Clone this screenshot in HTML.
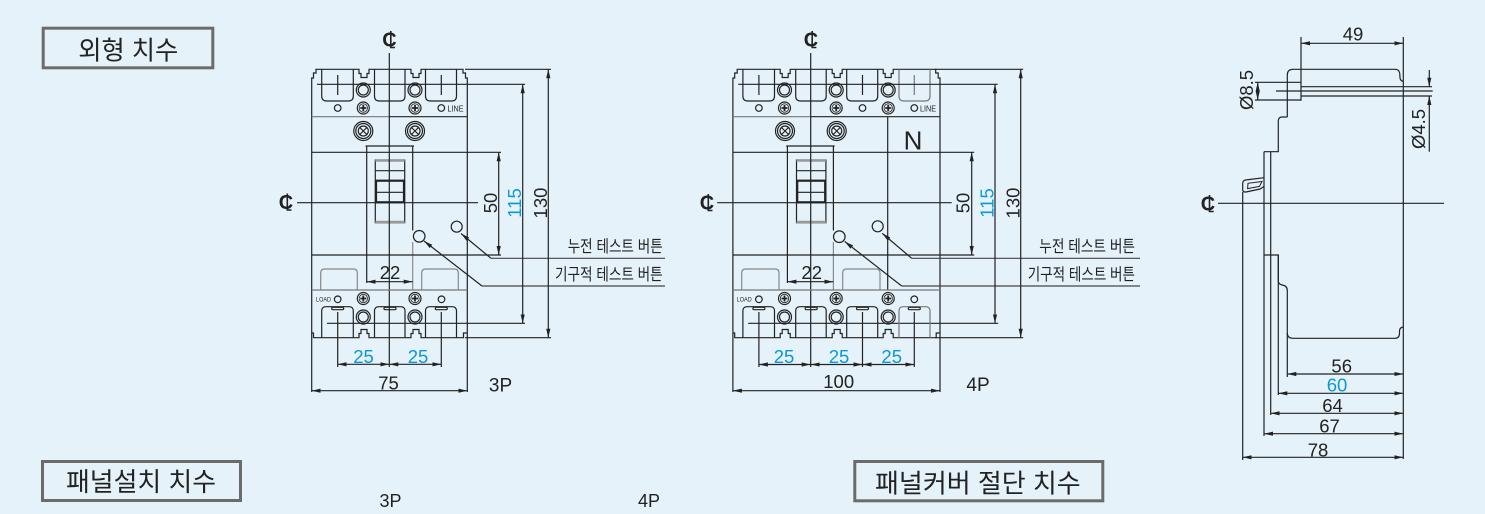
<!DOCTYPE html>
<html><head><meta charset="utf-8">
<style>
html,body{margin:0;padding:0;background:#e5f2f9;}
svg{display:block}
text{font-family:"Liberation Sans","Noto Sans CJK KR",sans-serif;fill:#222;stroke:none}
.kr{font-family:"Liberation Sans","Noto Sans CJK KR",sans-serif}
.n{font-size:18.5px}
.b{fill:#0a98d8}
.cl{font-size:20px;font-weight:bold}
</style></head><body>
<svg width="1485" height="514" viewBox="0 0 1485 514" xmlns="http://www.w3.org/2000/svg">
<defs>
<marker id="ar" markerUnits="userSpaceOnUse" markerWidth="9" markerHeight="5" viewBox="0 0 9 5" refX="9" refY="2.5" orient="auto-start-reverse"><path d="M0,0.4 L9,2.5 L0,4.6Z" fill="#222"/></marker>
</defs>
<rect width="1485" height="514" fill="#e5f2f9"/>

<!-- Title boxes -->
<g fill="none" stroke="#6b6b6b" stroke-width="3">
<rect x="43.2" y="28.2" width="169.6" height="39.6"/>
<rect x="42.5" y="461.5" width="198" height="39"/>
<rect x="854.8" y="461.5" width="248" height="39.3"/>
</g>
<text class="kr" x="78.3" y="59.3" font-size="26" textLength="100" lengthAdjust="spacingAndGlyphs">외형 치수</text>
<text class="kr" x="66" y="491" font-size="26" textLength="150" lengthAdjust="spacingAndGlyphs">패널설치 치수</text>
<text class="kr" x="875" y="492.6" font-size="26" textLength="205.7" lengthAdjust="spacingAndGlyphs">패널커버 절단 치수</text>
<text x="390.5" y="507" font-size="18" text-anchor="middle">3P</text>
<text x="649" y="507" font-size="18" text-anchor="middle">4P</text>

<!-- ===== 3P ===== -->
<g fill="none" stroke="#222" stroke-width="1.2">
<path d="M311.7,392V78H313.5V73H316V69.3H359V73.5H361V77.5H367V73.5H369V69.3H411V73.5H413V77.5H419V73.5H421V69.3H463V73H465.5V78H467.3V392"/>
<path d="M311.7,333H313.5V337.7H359V333.5H361V329.5H367V333.5H369V337.7H411V333.5H413V329.5H419V333.5H421V337.7H463.5V333H467.3"/>
<path d="M321.7,69.3V96Q321.7,101 326.7,101H348.3Q353.3,101 353.3,96V69.3"/>
<path d="M374.5,69.3V96Q374.5,101 379.5,101H400Q405,101 405,96V69.3"/>
<path d="M425.5,69.3V96Q425.5,101 430.5,101H451.5Q456.5,101 456.5,96V69.3"/>
<path d="M337.7,75V95M441.3,75V95"/>
<circle cx="363.3" cy="90" r="7"/><circle cx="363.3" cy="90" r="5"/>
<circle cx="415" cy="90" r="7"/><circle cx="415" cy="90" r="5"/>
<circle cx="337.7" cy="108" r="3.3"/><circle cx="441.3" cy="108" r="3.3"/>
<g transform="translate(363.3,108)"><circle r="6"/><circle r="4.2" stroke-width="0.8"/><path d="M-3,0H3M0,-3V3" stroke-width="1.8"/></g>
<g transform="translate(415,108)"><circle r="6"/><circle r="4.2" stroke-width="0.8"/><path d="M-3,0H3M0,-3V3" stroke-width="1.8"/></g>
<path d="M311.7,116.7H389.3" stroke="#777"/><path d="M389.3,116.7H467.3"/>
<g transform="translate(363.3,131)"><circle r="9.5"/><circle r="7.5"/><circle r="5"/><path d="M-3.5,-3.5L3.5,3.5M3.5,-3.5L-3.5,3.5"/></g>
<g transform="translate(415,131)"><circle r="9.5"/><circle r="7.5"/><circle r="5"/><path d="M-3.5,-3.5L3.5,3.5M3.5,-3.5L-3.5,3.5"/></g>
<path d="M311.7,152.3H501"/>
<path d="M366.7,283V146M365.5,146H414M412.7,146V230.5"/>
<path d="M412.7,242V290" stroke="#888"/>
<rect x="375.3" y="160" width="29.4" height="62.7"/>
<path d="M375.3,170.7H404.7M375.3,192.3H404.7"/>
<rect x="376" y="180.7" width="28" height="21.6" stroke-width="2.2"/>
<path d="M375.3,160.5H404.7M375.3,222H404.7" stroke="#999" stroke-width="2.5"/>
<path d="M297,202.7H478M389.3,53V367"/>
<circle cx="456.7" cy="226.7" r="5.5"/>
<circle cx="419.2" cy="236.3" r="5.8"/>
<line x1="491" y1="258.3" x2="461" y2="233.5" marker-end="url(#ar)"/>
<line x1="482" y1="286" x2="424" y2="241" marker-end="url(#ar)"/>
<path d="M491,258.3H665M482,286H665" stroke="#444"/>
<path d="M311.7,255H501"/>
<line x1="498.7" y1="152.3" x2="498.7" y2="255" marker-start="url(#ar)" marker-end="url(#ar)"/>
<path d="M317,84.3H525M327,323.3H525"/>
<line x1="522.7" y1="84.3" x2="522.7" y2="323.3" marker-start="url(#ar)" marker-end="url(#ar)"/>
<path d="M465,69.3H551M465,337.7H551"/>
<line x1="548.3" y1="69.3" x2="548.3" y2="337.7" marker-start="url(#ar)" marker-end="url(#ar)"/>
<path d="M320.7,290V273Q320.7,269 324.7,269H353.3Q357.3,269 357.3,273V290M421.7,290V273Q421.7,269 425.7,269H454.3Q458.3,269 458.3,273V290" stroke="#888"/>
<path d="M311.7,290H467.3" stroke="#777"/>
<line x1="366.7" y1="281.7" x2="412.7" y2="281.7" marker-start="url(#ar)" marker-end="url(#ar)"/>
<circle cx="337.7" cy="299.3" r="3.3"/><circle cx="441.5" cy="299.3" r="3.3"/>
<g transform="translate(363.3,298.5)"><circle r="6"/><circle r="4.2" stroke-width="0.8"/><path d="M-3,0H3M0,-3V3" stroke-width="1.8"/></g>
<g transform="translate(415,298.5)"><circle r="6"/><circle r="4.2" stroke-width="0.8"/><path d="M-3,0H3M0,-3V3" stroke-width="1.8"/></g>
<path d="M321.7,337.7V311Q321.7,306.7 326,306.7H349Q353.3,306.7 353.3,311V337.7"/>
<path d="M374.5,337.7V311Q374.5,306.7 379,306.7H400.5Q405,306.7 405,311V337.7"/>
<path d="M425.5,337.7V311Q425.5,306.7 430,306.7H452Q456.5,306.7 456.5,311V337.7"/>
<rect x="331.7" y="307.3" width="12" height="2.4" rx="1.2"/><rect x="384" y="307.3" width="12" height="2.4" rx="1.2"/><rect x="435.3" y="307.3" width="12" height="2.4" rx="1.2"/>
<circle cx="363.3" cy="317" r="7"/><circle cx="363.3" cy="317" r="5"/>
<circle cx="415" cy="317" r="7"/><circle cx="415" cy="317" r="5"/>
<path d="M337.7,312V367M441.3,312V367"/>
<line x1="337.7" y1="364.3" x2="389.3" y2="364.3" marker-start="url(#ar)" marker-end="url(#ar)"/>
<line x1="389.3" y1="364.3" x2="441.3" y2="364.3" marker-start="url(#ar)" marker-end="url(#ar)"/>
<line x1="311.7" y1="390.7" x2="467.3" y2="390.7" marker-start="url(#ar)" marker-end="url(#ar)"/>
<!-- centerline symbols -->
<path d="M390.8,31V47.5H395" stroke-width="1.6"/><path d="M287.3,193.5V210H291.5" stroke-width="1.6"/>
</g>
<text class="cl" x="389.5" y="46.5" text-anchor="middle">C</text>
<text class="cl" x="286" y="209" text-anchor="middle">C</text>
<text x="447.5" y="111.6" font-size="8.5" textLength="16" lengthAdjust="spacingAndGlyphs">LINE</text>
<text x="316" y="301.3" font-size="6" textLength="15" lengthAdjust="spacingAndGlyphs">LOAD</text>
<text class="n" x="390" y="279" text-anchor="middle">22</text>
<text class="n b" x="363.5" y="363" text-anchor="middle">25</text>
<text class="n b" x="418" y="363" text-anchor="middle">25</text>
<text class="n" x="388.5" y="389.5" text-anchor="middle">75</text>
<text x="500.5" y="391.5" font-size="19" text-anchor="middle">3P</text>
<text class="n" transform="translate(497,203) rotate(-90)" text-anchor="middle">50</text>
<text class="n b" transform="translate(521,203) rotate(-90)" text-anchor="middle">115</text>
<text class="n" transform="translate(547,203) rotate(-90)" text-anchor="middle">130</text>
<text class="kr" x="567.7" y="252" font-size="16.5" textLength="95" lengthAdjust="spacingAndGlyphs">누전 테스트 버튼</text>
<text class="kr" x="555" y="280" font-size="16.5" textLength="107.7" lengthAdjust="spacingAndGlyphs">기구적 테스트 버튼</text>

<!-- ===== 4P ===== -->
<g transform="translate(421.2,0)">
<g fill="none" stroke="#222" stroke-width="1.2">
<path d="M311.7,392V78H313.5V73H316V69.3H359V73.5H361V77.5H367V73.5H369V69.3H411V73.5H413V77.5H419V73.5H421V69.3H462V73.5H464V77.5H470V73.5H472V69.3H514.5V73H517V78H518.8V392"/>
<path d="M311.7,333H313.5V337.7H359V333.5H361V329.5H367V333.5H369V337.7H411V333.5H413V329.5H419V333.5H421V337.7H462V333.5H464V329.5H470V333.5H472V337.7H515V333H518.8"/>
<path d="M321.7,69.3V96Q321.7,101 326.7,101H348.3Q353.3,101 353.3,96V69.3"/>
<path d="M374.5,69.3V96Q374.5,101 379.5,101H400Q405,101 405,96V69.3"/>
<path d="M425.5,69.3V96Q425.5,101 430.5,101H451.5Q456.5,101 456.5,96V69.3"/>
<path d="M477.8,69.3V96Q477.8,101 482.8,101H503.8Q508.8,101 508.8,96V69.3" stroke="#777"/>
<path d="M337.7,75V95M441.3,75V95"/><path d="M493.1,75V95" stroke="#777"/>
<circle cx="363.3" cy="90" r="7"/><circle cx="363.3" cy="90" r="5"/>
<circle cx="415" cy="90" r="7"/><circle cx="415" cy="90" r="5"/>
<circle cx="467" cy="90" r="7"/><circle cx="467" cy="90" r="5"/>
<circle cx="337.7" cy="108" r="3.3"/><circle cx="441.3" cy="108" r="3.3"/><circle cx="493.1" cy="108" r="3.3"/>
<g transform="translate(363.3,108)"><circle r="6"/><circle r="4.2" stroke-width="0.8"/><path d="M-3,0H3M0,-3V3" stroke-width="1.8"/></g>
<g transform="translate(415,108)"><circle r="6"/><circle r="4.2" stroke-width="0.8"/><path d="M-3,0H3M0,-3V3" stroke-width="1.8"/></g>
<g transform="translate(467,108)"><circle r="6"/><circle r="4.2" stroke-width="0.8"/><path d="M-3,0H3M0,-3V3" stroke-width="1.8"/></g>
<path d="M311.7,116.7H389.5" stroke="#777"/><path d="M389.5,116.7H518.8"/>
<g transform="translate(363.8,131)"><circle r="9.5"/><circle r="7.5"/><circle r="5"/><path d="M-3.5,-3.5L3.5,3.5M3.5,-3.5L-3.5,3.5"/></g>
<g transform="translate(415.5,131)"><circle r="9.5"/><circle r="7.5"/><circle r="5"/><path d="M-3.5,-3.5L3.5,3.5M3.5,-3.5L-3.5,3.5"/></g>
<path d="M466.5,116.7V290"/>
<path d="M311.7,152.3H553"/>
<path d="M366.2,283V146M365,146H413.5M412.2,146V230.5"/>
<path d="M412.2,242V290" stroke="#888"/>
<rect x="375.3" y="160" width="29.4" height="62.7"/>
<path d="M375.3,170.7H404.7M375.3,192.3H404.7"/>
<rect x="376" y="180.7" width="28" height="21.6" stroke-width="2.2"/>
<path d="M375.3,160.5H404.7M375.3,222H404.7" stroke="#999" stroke-width="2.5"/>
<path d="M296,202.7H530.5M389.5,53V367"/>
<circle cx="456.5" cy="226.3" r="5.5"/>
<circle cx="418.1" cy="236.7" r="5.8"/>
<line x1="490.5" y1="258.3" x2="461" y2="233.3" marker-end="url(#ar)"/>
<line x1="480.5" y1="286" x2="423.5" y2="241.5" marker-end="url(#ar)"/>
<path d="M490.5,258.3H718.8M480.5,286H718.8" stroke="#444"/>
<path d="M311.7,255H553"/>
<line x1="550.5" y1="152.3" x2="550.5" y2="255" marker-start="url(#ar)" marker-end="url(#ar)"/>
<path d="M317,84.3H576.5M327,323.3H577"/>
<line x1="573.8" y1="84.3" x2="573.8" y2="323.3" marker-start="url(#ar)" marker-end="url(#ar)"/>
<path d="M514,69.3H602M514,337.7H602"/>
<line x1="599.5" y1="69.3" x2="599.5" y2="337.7" marker-start="url(#ar)" marker-end="url(#ar)"/>
<path d="M320.5,290V273Q320.5,269 324.5,269H353.8Q357.8,269 357.8,273V290M421.5,290V273Q421.5,269 425.5,269H454.8Q458.8,269 458.8,273V290" stroke="#888"/>
<path d="M311.7,290H518.8" stroke="#777"/>
<line x1="366.2" y1="281.7" x2="412.2" y2="281.7" marker-start="url(#ar)" marker-end="url(#ar)"/>
<circle cx="337.7" cy="299.3" r="3.3"/><circle cx="493.1" cy="299.3" r="3.3"/>
<g transform="translate(363.3,298.5)"><circle r="6"/><circle r="4.2" stroke-width="0.8"/><path d="M-3,0H3M0,-3V3" stroke-width="1.8"/></g>
<g transform="translate(415,298.5)"><circle r="6"/><circle r="4.2" stroke-width="0.8"/><path d="M-3,0H3M0,-3V3" stroke-width="1.8"/></g>
<g transform="translate(467,298.5)"><circle r="6"/><circle r="4.2" stroke-width="0.8"/><path d="M-3,0H3M0,-3V3" stroke-width="1.8"/></g>
<path d="M321.7,337.7V311Q321.7,306.7 326,306.7H349Q353.3,306.7 353.3,311V337.7"/>
<path d="M374.5,337.7V311Q374.5,306.7 379,306.7H400.5Q405,306.7 405,311V337.7"/>
<path d="M425.5,337.7V311Q425.5,306.7 430,306.7H452Q456.5,306.7 456.5,311V337.7"/>
<path d="M477.8,337.7V311Q477.8,306.7 482.3,306.7H504.3Q508.8,306.7 508.8,311V337.7" stroke="#777"/>
<rect x="331.7" y="307.3" width="12" height="2.4" rx="1.2"/><rect x="384" y="307.3" width="12" height="2.4" rx="1.2"/><rect x="435.3" y="307.3" width="12" height="2.4" rx="1.2"/><rect x="487.1" y="307.3" width="12" height="2.4" rx="1.2"/>
<circle cx="363.3" cy="317" r="7"/><circle cx="363.3" cy="317" r="5"/>
<circle cx="415" cy="317" r="7"/><circle cx="415" cy="317" r="5"/>
<circle cx="467" cy="317" r="7"/><circle cx="467" cy="317" r="5"/>
<path d="M337.7,312V367M441.3,312V367M493.1,312V367"/>
<line x1="337.7" y1="364.5" x2="389.5" y2="364.5" marker-start="url(#ar)" marker-end="url(#ar)"/>
<line x1="389.5" y1="364.5" x2="441.3" y2="364.5" marker-start="url(#ar)" marker-end="url(#ar)"/>
<line x1="441.3" y1="364.5" x2="493.1" y2="364.5" marker-start="url(#ar)" marker-end="url(#ar)"/>
<line x1="311.7" y1="390.7" x2="518.8" y2="390.7" marker-start="url(#ar)" marker-end="url(#ar)"/>
<path d="M391,31V47.5H395.2" stroke-width="1.6"/><path d="M287.1,194V210.5H291.3" stroke-width="1.6"/>
</g>
<text class="cl" x="389.8" y="46.5" text-anchor="middle">C</text>
<text class="cl" x="285.8" y="209.5" text-anchor="middle">C</text>
<text x="491.8" y="149.3" font-size="26" text-anchor="middle">N</text>
<text x="498.8" y="111.6" font-size="8.5" textLength="16" lengthAdjust="spacingAndGlyphs">LINE</text>
<text x="315.5" y="301.3" font-size="6" textLength="15" lengthAdjust="spacingAndGlyphs">LOAD</text>
<text class="n" x="390.5" y="279" text-anchor="middle">22</text>
<text class="n b" x="362.8" y="363" text-anchor="middle">25</text>
<text class="n b" x="417.8" y="363" text-anchor="middle">25</text>
<text class="n b" x="470.5" y="363" text-anchor="middle">25</text>
<text class="n" x="417.5" y="388" text-anchor="middle">100</text>
<text x="556.8" y="391" font-size="19" text-anchor="middle">4P</text>
<text class="n" transform="translate(548.5,203) rotate(-90)" text-anchor="middle">50</text>
<text class="n b" transform="translate(572.5,203) rotate(-90)" text-anchor="middle">115</text>
<text class="n" transform="translate(598.5,203) rotate(-90)" text-anchor="middle">130</text>
<text class="kr" x="618.1" y="252" font-size="16.5" textLength="95.7" lengthAdjust="spacingAndGlyphs">누전 테스트 버튼</text>
<text class="kr" x="606.5" y="280" font-size="16.5" textLength="107.3" lengthAdjust="spacingAndGlyphs">기구적 테스트 버튼</text>
</g>

<!-- ===== Side view ===== -->
<g fill="none" stroke="#222" stroke-width="1.2">
<path d="M1287.3,117V75Q1287.3,69.3 1293,69.3H1395Q1399.5,69.3 1399.8,74L1400,78Q1400.5,81 1403.3,81.5"/>
<path d="M1287.3,117H1281.5Q1278.3,117.5 1278.3,121V151.7H1264"/>
<path d="M1403.3,327Q1399.5,327.5 1399.5,331V334Q1399,338.3 1395,338.3H1293Q1287.3,338.3 1287.3,333V290.7Q1287.3,285.5 1282,285Q1278.3,284 1278.3,281V255H1264"/>
<path d="M1403.3,37V459"/>
<path d="M1264,151.7V436M1270.7,151.7V415M1278.3,255V395M1287.3,333V377M1242.7,192V460"/>
<path d="M1264,177.7L1245.5,180Q1242.7,180.5 1242.7,183.5V190Q1243,192.3 1246,192L1260,189L1264,186.5"/>
<path d="M1262,181.5L1248,183.3L1247.6,188.6L1259.5,186.4Z" stroke-width="1"/>
<line x1="1287.3" y1="374" x2="1403.3" y2="374" marker-start="url(#ar)" marker-end="url(#ar)"/>
<line x1="1278.3" y1="393.3" x2="1403.3" y2="393.3" marker-start="url(#ar)" marker-end="url(#ar)"/>
<line x1="1270.7" y1="413.3" x2="1403.3" y2="413.3" marker-start="url(#ar)" marker-end="url(#ar)"/>
<line x1="1264" y1="433.7" x2="1403.3" y2="433.7" marker-start="url(#ar)" marker-end="url(#ar)"/>
<line x1="1242.7" y1="457.3" x2="1403.3" y2="457.3" marker-start="url(#ar)" marker-end="url(#ar)"/>
<path d="M1301,37V100.7"/>
<line x1="1301" y1="43.3" x2="1403.3" y2="43.3" marker-start="url(#ar)" marker-end="url(#ar)"/>
<path d="M1255,82.3H1301M1255,100H1301"/>
<line x1="1257.7" y1="82.3" x2="1257.7" y2="100" marker-start="url(#ar)" marker-end="url(#ar)"/>
<path d="M1276,91H1432.7M1301,86.7H1432M1301,96H1432"/>
<line x1="1429.3" y1="70" x2="1429.3" y2="86.7" marker-end="url(#ar)"/>
<line x1="1429.3" y1="96" x2="1429.3" y2="151.7" marker-start="url(#ar)"/>
<path d="M1218,203.3H1444"/>
<path d="M1209.5,195V211.5H1213.7" stroke-width="1.6"/>
</g>
<text class="cl" x="1208" y="210.5" text-anchor="middle">C</text>
<text class="n" x="1353" y="40.5" text-anchor="middle">49</text>
<text class="n" x="1341.7" y="372.5" text-anchor="middle">56</text>
<text class="n b" x="1337" y="391.5" text-anchor="middle">60</text>
<text class="n" x="1332.5" y="412" text-anchor="middle">64</text>
<text class="n" x="1329.5" y="432.5" text-anchor="middle">67</text>
<text class="n" x="1318" y="456.5" text-anchor="middle">78</text>
<text class="n" transform="translate(1253,90) rotate(-90)" text-anchor="middle">Ø8.5</text>
<text class="n" transform="translate(1425,129) rotate(-90)" text-anchor="middle">Ø4.5</text>
</svg>
</body></html>
